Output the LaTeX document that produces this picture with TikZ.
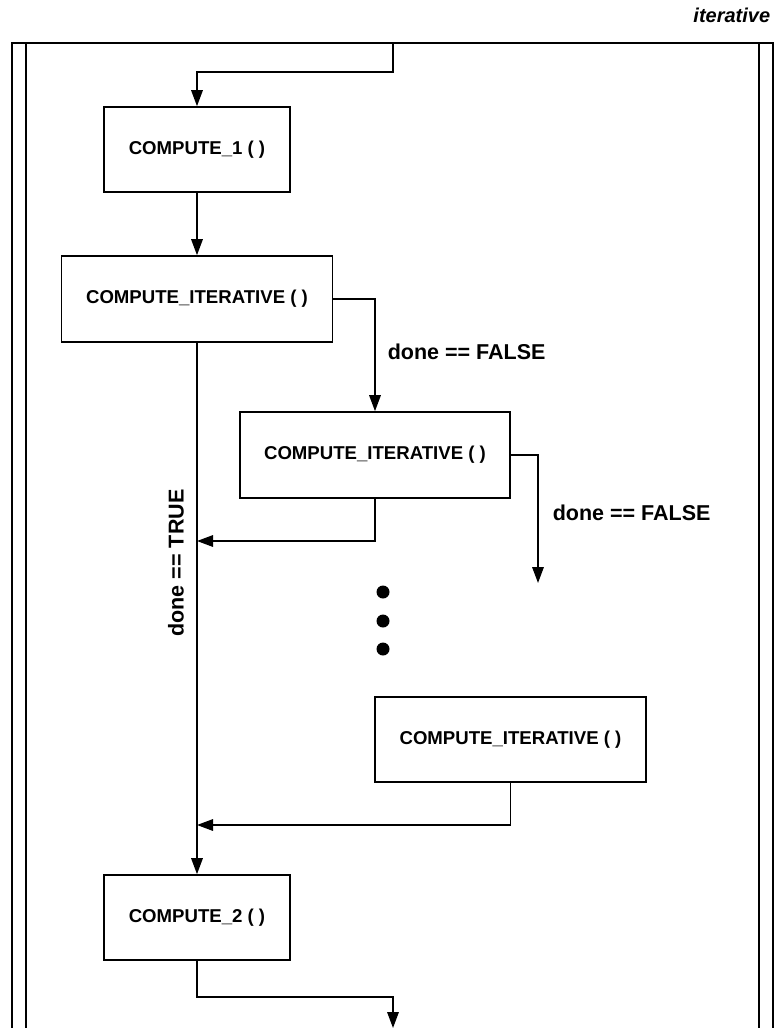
\documentclass[tikz,border=0pt]{standalone}
\usepackage{fontspec}
\setmainfont{Liberation Sans}
\usetikzlibrary{arrows.meta}
\begin{document}
\begin{tikzpicture}[x=1pt,y=-1pt,
  line width=1.6pt,
  stepbox/.style={draw,rectangle,inner sep=0pt,font=\fontsize{18.6}{22}\selectfont\bfseries},
  flow/.style={-{Triangle[length=16pt,width=11.5pt]}},
  cond/.style={font=\fontsize{21.5}{25}\selectfont\bfseries,inner sep=0pt},
  dot/.style={circle,fill=black,draw=none,minimum size=13pt,inner sep=0pt}]
\useasboundingbox (0,0) rectangle (776,1028);

% title
\node[font=\fontsize{20}{24}\selectfont\bfseries\itshape,anchor=east,inner sep=0pt] (title) at (771,15) {iterative};

% frame
\draw (12,1028) -- (12,43) -- (773,43) -- (773,1028);
\draw (26,43) -- (26,1028);
\draw (759,43) -- (759,1028);

% process boxes
\node[stepbox,minimum width=186pt,minimum height=85pt] (c1) at (197,149.5) {COMPUTE\_1 ( )};
\node[stepbox,minimum width=271pt,minimum height=86pt] (it1) at (197,299) {COMPUTE\_ITERATIVE ( )};
\node[stepbox,minimum width=270pt,minimum height=86pt] (it2) at (375,455) {COMPUTE\_ITERATIVE ( )};
\node[stepbox,minimum width=271pt,minimum height=85pt] (it3) at (510.5,739.5) {COMPUTE\_ITERATIVE ( )};
\node[stepbox,minimum width=186pt,minimum height=85pt] (c2) at (197,917.5) {COMPUTE\_2 ( )};

% free ends and junctions
\coordinate (topin) at (393,43);
\coordinate (loose) at (538,583);
\coordinate (j1) at (197,541);
\coordinate (j2) at (197,825);
\coordinate (botout) at (393,1028);

% connectors
\draw[flow] (topin) -- ++(0,29) -| (c1.north);
\draw[flow] (c1.south) -- (it1.north);
\draw[flow] (it1.east) -| (it2.north);
\draw[flow] (it2.east) -| (loose);
\draw[flow] (it1.south) -- (c2.north);
\draw[flow] (it2.south) |- (j1);
\draw[flow] (it3.south) |- (j2);
\draw[flow] (c2.south) -- ++(0,36) -| (botout);

% continuation dots
\node[dot] (d1) at (383,592) {};
\node[dot] (d2) at (383,621) {};
\node[dot] (d3) at (383,649) {};

% conditions
\node[cond,anchor=west] (f1) at (387,352) {done == FALSE};
\node[cond,anchor=west] (f2) at (552,513) {done == FALSE};
\node[cond,rotate=90] (t1) at (176,563) {done == TRUE};
\end{tikzpicture}
\end{document}
